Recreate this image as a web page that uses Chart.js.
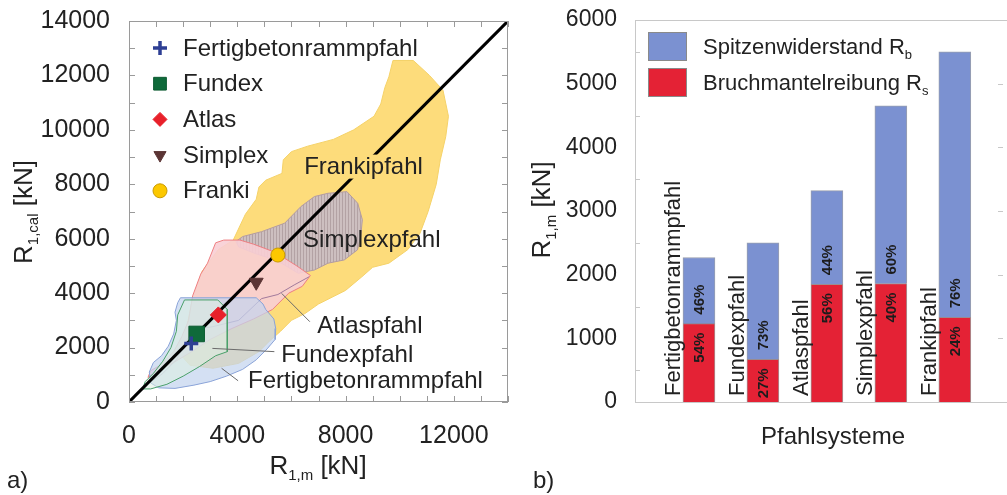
<!DOCTYPE html>
<html>
<head>
<meta charset="utf-8">
<script src="https://cdn.jsdelivr.net/npm/chart.js@4.4.1/dist/chart.umd.min.js"></script>
<style>
  html, body { margin:0; padding:0; background:#fff; overflow:hidden; width:1007px; height:495px; }
  #boxA { position:absolute; left:0; top:0; }
  #boxB { position:absolute; left:520px; top:0; }
</style>
</head>
<body>
<canvas id="boxA" width="520" height="495"></canvas>
<canvas id="boxB" width="487" height="495"></canvas>
<script>
/* ===============================
   DATA  a) R1,cal vs R1,m
================================ */
const pileTypes      = ["Fertigbetonrammpfahl", "Fundex", "Atlas", "Simplex", "Franki"];
const meanMeasured   = [2300, 2500, 3300, 4700, 5500];   // R1,m  [kN]
const meanCalculated = [2150, 2500, 3200, 4400, 5400];   // R1,cal [kN]

// scatter zones, [R1,m, R1,cal]
const zoneFranki = [[9750,12550],[10500,12550],[11100,12000],[11600,11450],[11800,10500],[11700,9750],
  [11500,8900],[11350,8000],[11050,7000],[10750,6200],[10300,5600],[9600,5100],[9000,4950],[8600,4600],
  [8000,4100],[7500,3850],[7000,3600],[6500,3250],[6000,3000],[5600,2600],[5200,2250],[4800,1850],
  [4050,1420],[3100,1240],[2250,1350],[1850,1800],[2100,2600],[2350,3800],[2700,4800],[3300,5600],
  [3850,5950],[4300,6900],[4700,7450],[4800,7900],[5050,8150],[5650,8400],[5700,8900],[6000,9200],
  [6600,9400],[7550,9650],[8300,10000],[9050,10500],[9300,10950],[9450,11550],[9600,11950],[9750,12550]];
const zoneSimplex = [[3950,5900],[4200,6080],[4900,6260],[5750,6570],[6350,7180],[6850,7550],[7350,7670],
  [8050,7730],[8450,7300],[8620,6700],[8560,6080],[8440,5590],[7950,5220],[7350,5100],[6850,4850],
  [6250,4730],[5750,5030],[5400,5220],[4650,5460],[4050,5700],[3950,5900]];
const zoneSimplexLow = [[6650,4600],[6100,4300],[5500,3950],[4900,3800],[4050,3000],[3100,2770],
  [2350,2650],[2100,2200],[1750,1550],[1250,1050],[900,800]];
const zoneAtlas = [[3200,5850],[3500,5950],[4100,5950],[4600,5800],[5400,5500],[6200,5000],[6700,4650],
  [6400,4250],[5900,4000],[5300,3400],[4600,3050],[3800,2700],[3000,2300],[2400,1900],[1650,1450],
  [1050,1150],[700,900],[800,1150],[1150,1350],[1650,1850],[1950,2400],[2200,3000],[2350,3900],
  [2650,4700],[2900,5100],[3200,5850]];
const zoneFertig = [[1900,3830],[4700,3830],[4950,3600],[5050,3400],[5350,3050],[5420,2700],[5400,2300],
  [5100,1950],[4700,1550],[4200,1200],[3600,950],[3000,750],[2400,620],[1700,500],[1100,520],[800,700],
  [750,1100],[900,1450],[1200,1700],[1450,2050],[1650,2500],[1750,3000],[1700,3300],[1800,3650],[1900,3830]];
const zoneFundex = [[2050,3750],[3280,3750],[3630,3400],[3630,1850],[3200,1700],[2600,1300],[2000,950],
  [1400,650],[800,480],[500,480],[600,750],[900,1050],[1250,1500],[1550,2000],[1750,2600],[1800,3200],[2050,3750]];

const diagonal = [[0,0],[14000,14000]];
const leaderAtlas  = [[6680,2950],[5640,3990]];
const leaderFundex = [[5370,1850],[3080,1970]];
const leaderFertig = [[4030,780],[3420,1240]];

const zoneNames = ["Frankipfahl", "Simplexpfahl", "Atlaspfahl", "Fundexpfahl", "Fertigbetonrammpfahl"];
const zoneLabelAt = [[6470,8650],[6430,5980],[6950,2830],[5620,1760],[4400,810]];

/* ===============================
   DATA  b) Pfahlsysteme
================================ */
const systems  = ["Fertigbetonrammpfahl", "Fundexpfahl", "Atlaspfahl", "Simplexpfahl", "Frankipfahl"];
const shaftRs  = [1230, 670, 1850, 1860, 1330];   // Bruchmantelreibung
const baseRb   = [1040, 1830, 1470, 2790, 4170];  // Spitzenwiderstand
const shaftPct = ["54%", "27%", "56%", "40%", "24%"];
const basePct  = ["46%", "73%", "44%", "60%", "76%"];


const FONT = "'Liberation Sans', Arial, sans-serif";
const INK = "#222";
const H = Chart.helpers;

function pts(list){ return list.map(p => ({x:p[0], y:p[1]})); }

function hatch(base, line){
  const c = document.createElement("canvas");
  c.width = 3; c.height = 3;
  const g = c.getContext("2d");
  g.fillStyle = base; g.fillRect(0,0,3,3);
  g.fillStyle = line; g.fillRect(0,0,1,3);
  return g.createPattern(c, "repeat");
}

/* fixed axis box, no label overflow padding */
function fixBox(prop, size){
  return s => {
    s[prop] = size;
    s.paddingLeft = 0; s.paddingRight = 0; s.paddingTop = 0; s.paddingBottom = 0;
  };
}

/* text with subscript, parts = [[text, size, dy]] */
function subText(ctx, x, y, parts, align){
  let w = 0;
  parts.forEach(p => { ctx.font = p[1] + "px " + FONT; w += ctx.measureText(p[0]).width; });
  let cx = align === "center" ? x - w/2 : x;
  ctx.textAlign = "left";
  ctx.textBaseline = "alphabetic";
  parts.forEach(p => {
    ctx.font = p[1] + "px " + FONT;
    ctx.fillText(p[0], cx, y + p[2]);
    cx += ctx.measureText(p[0]).width;
  });
}

/* ===============================
   PLUGINS
================================ */
const frameA = {
  id: "frameA",
  afterDatasetsDraw(chart){
    const {ctx, chartArea:a, scales} = chart;
    ctx.save();
    ctx.strokeStyle = "#9a9a9a"; ctx.lineWidth = 1;
    ctx.strokeRect(a.left + .5, a.top + .5, a.right - a.left - 1, a.bottom - a.top - 1);
    ctx.beginPath();
    scales.x.ticks.forEach(t => {
      const px = Math.round(scales.x.getPixelForValue(t.value)) + .5;
      ctx.moveTo(px, a.bottom); ctx.lineTo(px, a.bottom - 6);
      ctx.moveTo(px, a.top); ctx.lineTo(px, a.top + 6);
    });
    scales.y.ticks.forEach(t => {
      const py = Math.round(scales.y.getPixelForValue(t.value)) + .5;
      ctx.moveTo(a.left, py); ctx.lineTo(a.left + 6, py);
      ctx.moveTo(a.right, py); ctx.lineTo(a.right - 6, py);
    });
    ctx.stroke();

    // zone names
    ctx.font = "24px " + FONT;
    ctx.textBaseline = "middle"; ctx.textAlign = "left";
    zoneNames.forEach((name, i) => {
      const x = scales.x.getPixelForValue(zoneLabelAt[i][0]);
      const y = scales.y.getPixelForValue(zoneLabelAt[i][1]);
      if (i === 0) {
        ctx.fillStyle = "#fddc7b";
        ctx.fillRect(x - 2, y - 12, ctx.measureText(name).width + 4, 24);
      }
      ctx.fillStyle = INK;
      ctx.fillText(name, x, y + 1);
    });

    // legend
    const styles = chart.data.datasets.filter(d => d.isMean);
    styles.forEach((d, i) => {
      const y = 48 + i * 35.7;
      ctx.fillStyle = d.backgroundColor; ctx.strokeStyle = d.borderColor;
      ctx.lineWidth = d.borderWidth;
      H.drawPoint(ctx, {pointStyle:d.pointStyle, radius:d.legendRadius, rotation:d.rotation || 0,
        borderWidth:d.borderWidth}, 160, y);
      ctx.fillStyle = INK;
      ctx.font = "24px " + FONT;
      ctx.textBaseline = "middle";
      ctx.fillText(pileTypes[i], 183, y + 1);
    });

    // axis titles
    ctx.fillStyle = INK;
    subText(ctx, 318, 474, [["R",26,0],["1,m",15,6],[" [kN]",26,0]], "center");
    ctx.translate(32, 212);
    ctx.rotate(-Math.PI/2);
    subText(ctx, 0, 0, [["R",26,0],["1,cal",15,6],[" [kN]",26,0]], "center");
    ctx.restore();

    ctx.save();
    ctx.fillStyle = INK;
    ctx.font = "24px " + FONT;
    ctx.textBaseline = "middle"; ctx.textAlign = "left";
    ctx.fillText("a)", 7, 481);
    ctx.restore();
  }
};

const frameB = {
  id: "frameB",
  afterDatasetsDraw(chart){
    const {ctx, chartArea:a, scales} = chart;
    ctx.save();
    ctx.strokeStyle = "#9a9a9a"; ctx.lineWidth = 1;
    ctx.beginPath();
    ctx.moveTo(a.left + .5, a.top + .5); ctx.lineTo(a.right + 2, a.top + .5);
    ctx.moveTo(a.left + .5, a.top); ctx.lineTo(a.left + .5, a.bottom);
    ctx.moveTo(a.left, a.bottom + .5); ctx.lineTo(a.right + 2, a.bottom + .5);
    scales.y.ticks.forEach(t => {
      const py = Math.round(scales.y.getPixelForValue(t.value)) + .5;
      if (t.value % 1000 === 500) { ctx.moveTo(a.left, py); ctx.lineTo(a.left + 5, py); }
      else if (t.value > 0 && t.value < 6000) { ctx.moveTo(a.right - 3, py); ctx.lineTo(a.right - 8, py); }
    });
    ctx.strokeStyle = "#c8c8c8";
    ctx.stroke();

    const red = chart.getDatasetMeta(0).data;
    red.forEach((bar, i) => {
      const cut = bar.y;
      ctx.save();
      ctx.translate(bar.x, cut);
      ctx.rotate(-Math.PI/2);
      ctx.fillStyle = "#1c1c1c";
      ctx.font = "bold 15px " + FONT;
      ctx.textBaseline = "middle";
      ctx.textAlign = "right";
      ctx.fillText(shaftPct[i], -9, 1);
      ctx.textAlign = "left";
      ctx.fillText(basePct[i], 9, 1);
      ctx.restore();

      ctx.save();
      ctx.translate(bar.x - 25, a.bottom - 6);
      ctx.rotate(-Math.PI/2);
      ctx.fillStyle = INK;
      ctx.font = "22px " + FONT;
      ctx.textBaseline = "middle";
      ctx.textAlign = "left";
      ctx.fillText(systems[i], 0, 0);
      ctx.restore();
    });

    // legend
    const items = [[chart.data.datasets[1], "Spitzenwiderstand R", "b", 32],
                   [chart.data.datasets[0], "Bruchmantelreibung R", "s", 68]];
    items.forEach(it => {
      ctx.fillStyle = it[0].backgroundColor;
      ctx.fillRect(128, it[3], 39, 29);
      ctx.strokeStyle = "#8a8a8a";
      ctx.strokeRect(128.5, it[3] + .5, 38, 28);
      ctx.fillStyle = INK;
      subText(ctx, 183, it[3] + 22, [[it[1],22,0],[it[2],13,5]], "left");
    });

    // titles
    ctx.fillStyle = INK;
    ctx.font = "24px " + FONT;
    ctx.textAlign = "center"; ctx.textBaseline = "middle";
    ctx.fillText("Pfahlsysteme", 313, 437);
    ctx.textAlign = "left";
    ctx.fillText("b)", 13, 481);
    ctx.translate(30, 210);
    ctx.rotate(-Math.PI/2);
    subText(ctx, 0, 0, [["R",26,0],["1,m",15,6],[" [kN]",26,0]], "center");
    ctx.restore();
  }
};

/* ===============================
   CHART a)
================================ */
function zone(data, fill, line, order, showFill){
  return { data: pts(data), showLine:true, pointRadius:0, borderColor:line, borderWidth:1,
    backgroundColor:fill, fill: showFill === false ? false : "shape", tension:0, order:order };
}
function leader(data){
  return { data: pts(data), showLine:true, pointRadius:0, borderColor:"#6b6b6b", borderWidth:1, fill:false, order:3 };
}

const meanStyle = [
  {pointStyle:"cross",   radius:7,  legendRadius:7, borderWidth:3.5, backgroundColor:"#2e3f94", borderColor:"#2e3f94"},
  {pointStyle:"rect",    radius:11, legendRadius:9, borderWidth:1,   backgroundColor:"#0f6a3a", borderColor:"#0b5a30"},
  {pointStyle:"rectRot", radius:8,  legendRadius:7, borderWidth:1,   backgroundColor:"#e8202a", borderColor:"#e8202a"},
  {pointStyle:"triangle",radius:8,  legendRadius:7, borderWidth:1,   backgroundColor:"#5b3434", borderColor:"#5b3434", rotation:180},
  {pointStyle:"circle",  radius:7,  legendRadius:7, borderWidth:1,   backgroundColor:"#fcc800", borderColor:"#c99a00"}
];

const meanSets = pileTypes.map((name, i) => ({
  label: name,
  isMean: true,
  data: [{x: meanMeasured[i], y: meanCalculated[i]}],
  pointStyle: meanStyle[i].pointStyle,
  pointRadius: meanStyle[i].radius,
  pointRotation: meanStyle[i].rotation || 0,
  rotation: meanStyle[i].rotation || 0,
  legendRadius: meanStyle[i].legendRadius,
  backgroundColor: meanStyle[i].backgroundColor,
  borderColor: meanStyle[i].borderColor,
  borderWidth: meanStyle[i].borderWidth,
  pointBorderWidth: meanStyle[i].borderWidth,
  order: 0
}));

new Chart(document.getElementById("boxA"), {
  type: "scatter",
  data: {
    datasets: [
      ...meanSets,
      { data: pts(diagonal), showLine:true, pointRadius:0, borderColor:"#000", borderWidth:3, order:1 },
      leader(leaderAtlas), leader(leaderFundex), leader(leaderFertig),
      zone(zoneFundex,  "rgba(222,241,226,0.55)", "#4aa06a", 5),
      zone(zoneFertig,  "rgba(196,212,238,0.72)", "#8aa3d8", 6),
      zone(zoneSimplexLow, "transparent", "#a27a9c", 7, false),
      zone(zoneAtlas,   "rgba(248,206,212,0.9)", "#ee7f82", 8),
      zone(zoneSimplex, hatch("#cdbfc0", "#b3a2a4"), "#b39ca2", 9),
      zone(zoneFranki,  "#fddc7b", "#f5d268", 10)
    ]
  },
  options: {
    responsive: false,
    animation: false,
    events: [],
    layout: { padding: { left:0, top:21, right:6, bottom:0 } },
    plugins: { legend:{display:false}, tooltip:{enabled:false} },
    scales: {
      x: {
        type: "linear", min: 0, max: 14000,
        afterFit: fixBox("height", 93),
        grid: { display:false, drawTicks:false },
        border: { display:false },
        ticks: { stepSize:1000, autoSkip:false, maxRotation:0, padding:19, color:INK,
          font:{ size:25, family:FONT },
          callback: v => v % 4000 === 0 ? String(v) : "" }
      },
      y: {
        type: "linear", min: 0, max: 14000,
        afterFit: fixBox("width", 129),
        grid: { display:false, drawTicks:false },
        border: { display:false },
        ticks: { stepSize:1000, autoSkip:false, padding:19, color:INK,
          font:{ size:25, family:FONT },
          callback: v => v % 2000 === 0 ? String(v) : "" }
      }
    }
  },
  plugins: [frameA]
});

/* ===============================
   CHART b)
================================ */
new Chart(document.getElementById("boxB"), {
  type: "bar",
  data: {
    datasets: [
      { label:"Bruchmantelreibung", data: shaftRs.map((v, i) => ({x:i + 1, y:v})),
        backgroundColor:"#e42235", borderColor:"rgba(90,60,60,0.55)", borderWidth:1, barThickness:32 },
      { label:"Spitzenwiderstand", data: baseRb.map((v, i) => ({x:i + 1, y:v})),
        backgroundColor:"#7b91d1", borderColor:"rgba(70,80,110,0.55)", borderWidth:1, barThickness:32 }
    ]
  },
  options: {
    responsive: false,
    animation: false,
    events: [],
    layout: { padding: { left:0, top:20, right:1, bottom:0 } },
    plugins: { legend:{display:false}, tooltip:{enabled:false} },
    scales: {
      x: {
        type: "linear", min: 0, max: 5.8, stacked: true, offset: false,
        afterFit: fixBox("height", 93),
        grid: { display:false, drawTicks:false },
        border: { display:false },
        ticks: { display:false }
      },
      y: {
        min: 0, max: 6000, stacked: true,
        afterFit: fixBox("width", 115),
        grid: { display:false, drawTicks:false },
        border: { display:false },
        ticks: { stepSize:500, autoSkip:false, padding:18, color:INK,
          font:{ size:23, family:FONT },
          callback: v => v % 1000 === 0 ? String(v) : "" }
      }
    }
  },
  plugins: [frameB]
});
</script>
</body>
</html>
